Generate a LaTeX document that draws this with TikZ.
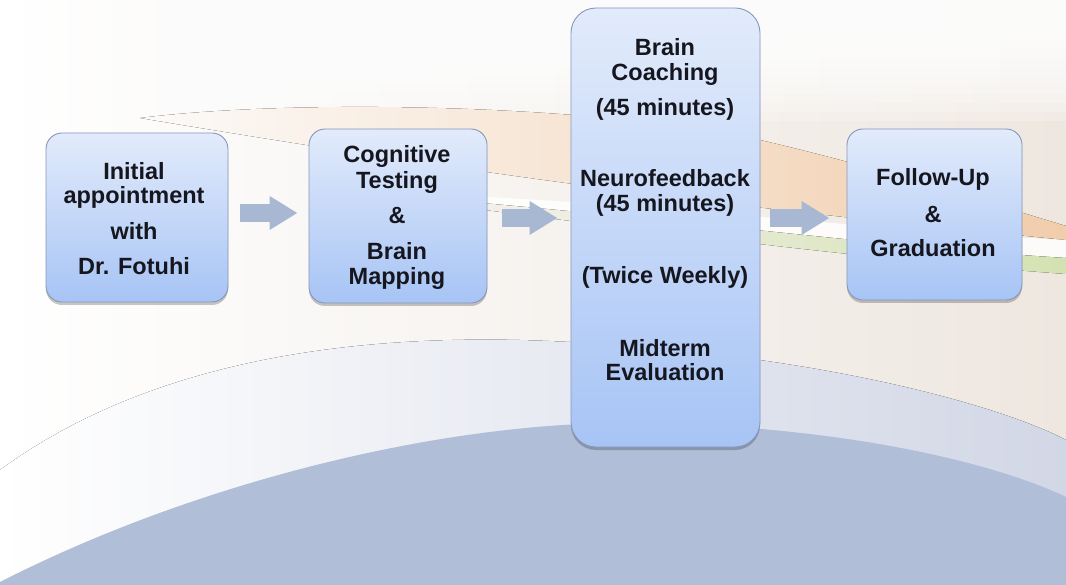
\documentclass[tikz,border=0pt]{standalone}
\usepackage{fontspec}
\setmainfont{Liberation Sans}
\usetikzlibrary{arrows.meta,shadows}
\definecolor{bgbeige}{HTML}{EEE7E0}
\definecolor{peachL}{HTML}{FCFAF8}
\definecolor{peachR}{HTML}{F1CDAB}
\definecolor{greenL}{HTML}{F4F0EA}
\definecolor{greenR}{HTML}{D3E2B2}
\definecolor{bandblue}{HTML}{D2D7E6}
\definecolor{domeblue}{HTML}{B1BED8}
\definecolor{boxtop}{HTML}{E2EBFB}
\definecolor{boxbot}{HTML}{A7C4F5}
\definecolor{boxline}{HTML}{8797BA}
\definecolor{arrowcol}{HTML}{A8B8D3}
\definecolor{txtcol}{HTML}{16161F}
\tikzset{
  stepbox/.style={draw=boxline, line width=0.9pt, rounded corners=16pt,
    top color=boxtop, bottom color=boxbot,
    drop shadow={shadow xshift=0pt, shadow yshift=-3pt, fill=black, opacity=0.22},
    inner sep=0pt},
  txt/.style={font=\bfseries\fontsize{23.5}{25}\selectfont, text=txtcol,
    anchor=base, inner sep=0pt},
  blockarrow/.style={draw=arrowcol, line width=18pt,
    -{Triangle[length=28pt,width=32pt]}}
}
\begin{document}
\begin{tikzpicture}[x=1pt,y=-1pt]
\useasboundingbox (0,0) rectangle (1066,585);

% backdrop: warm cream toward the right, white toward the top
\fill[left color=white, right color=bgbeige] (0,0) rectangle (1066,585);
\foreach \i in {0,...,9}{
  \fill[white, opacity=0.2] (0,0) rectangle (1066,40+9*\i);
}

% warm swoosh
\fill[left color=peachL, right color=peachR]
  (140,118) .. controls (300,98) and (600,105) .. (760,140)
  .. controls (880,168) and (980,200) .. (1066,226)
  -- (1066,240) .. controls (850,218) and (600,195) .. (140,118) -- cycle;
% white streak
\fill[white, opacity=0.85]
  (470,196) .. controls (700,208) and (900,232) .. (1066,240)
  -- (1066,258) .. controls (900,248) and (700,222) .. (470,202) -- cycle;
% green streak
\fill[left color=greenL, right color=greenR]
  (470,202) .. controls (700,222) and (900,248) .. (1066,258)
  -- (1066,274) .. controls (900,262) and (700,238) .. (470,208) -- cycle;

% pale band above the dome
\fill[left color=white, right color=bandblue]
  (0,470) .. controls (150,360) and (350,336) .. (520,340)
  .. controls (800,348) and (1000,405) .. (1066,440)
  -- (1066,585) -- (0,585) -- cycle;
% dome
\fill[domeblue]
  (0,582) .. controls (200,480) and (450,420) .. (640,423)
  .. controls (850,426) and (1000,465) .. (1066,497)
  -- (1066,585) -- (0,585) -- cycle;

% boxes
\node[stepbox, minimum width=182pt, minimum height=169pt] (b1) at (137,217.5) {};
\node[stepbox, minimum width=178pt, minimum height=174pt] (b2) at (398,216) {};
\node[stepbox, rounded corners=25pt, minimum width=189pt, minimum height=439pt] (b3) at (665.5,227.5) {};
\node[stepbox, minimum width=175pt, minimum height=171pt] (b4) at (934.5,214.5) {};

% arrows between the steps
\draw[blockarrow, shorten <=12pt, shorten >=11pt] ([yshift=4.5pt]b1.east) -- ([yshift=3pt]b2.west);
\draw[blockarrow, shorten <=15pt, shorten >=13pt] ([yshift=-2pt]b2.east) -- ([yshift=9.5pt]b3.west);
\draw[blockarrow, shorten <=10pt, shorten >=17pt] ([yshift=9.5pt]b3.east) -- ([yshift=-3.5pt]b4.west);

% labels
\node[txt] (t1a) at (134,180) {Initial};
\node[txt] (t1b) at (134,204) {appointment};
\node[txt] (t1c) at (134,240) {with};
\node[txt] (t1d) at (134,275) {Dr. Fotuhi};

\node[txt] (t2a) at (397,163) {Cognitive};
\node[txt] (t2b) at (397,189) {Testing};
\node[txt] (t2c) at (397,224) {\&};
\node[txt] (t2d) at (397,260) {Brain};
\node[txt] (t2e) at (397,285) {Mapping};

\node[txt] (t3a) at (665,56) {Brain};
\node[txt] (t3b) at (665,81) {Coaching};
\node[txt] (t3c) at (665,116) {(45 minutes)};
\node[txt] (t3d) at (665,187) {Neurofeedback};
\node[txt] (t3e) at (665,212) {(45 minutes)};
\node[txt] (t3f) at (665,284) {(Twice Weekly)};
\node[txt] (t3g) at (665,356) {Midterm};
\node[txt] (t3h) at (665,381) {Evaluation};

\node[txt] (t4a) at (933,186) {Follow-Up};
\node[txt] (t4b) at (933,223) {\&};
\node[txt] (t4c) at (933,257) {Graduation};
\end{tikzpicture}
\end{document}
